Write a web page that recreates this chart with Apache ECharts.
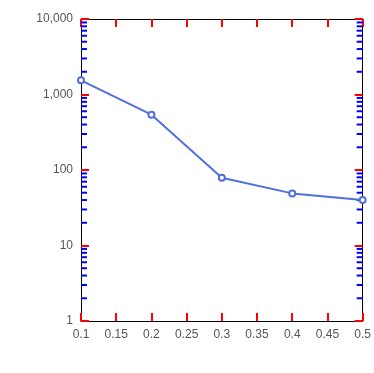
<!DOCTYPE html>
<html>
<head>
<meta charset="utf-8">
<script src="https://cdn.jsdelivr.net/npm/echarts@6/dist/echarts.min.js"></script>
<style>
  html, body { margin: 0; padding: 0; background: #fff; }
  #chart { width: 374px; height: 373px; }
</style>
</head>
<body>
<div id="chart"></div>
<script>
const minBSize = [0.1, 0.2, 0.3, 0.4, 0.5];
const cbminer = [1540, 540, 79, 49, 40];
const minorTickValues = [1, 10, 100, 1000].flatMap(d => [2, 3, 4, 5, 6, 7, 8, 9].map(m => m * d));

const chart = echarts.init(document.getElementById('chart'), null, { renderer: 'canvas' });

function axisParts() {
  return {
    axisLine: { show: true, lineStyle: { color: '#000', width: 1 } },
    axisTick: { show: true, inside: true, length: 8, lineStyle: { color: '#f00', width: 2 } },
    splitLine: { show: false },
  };
}

chart.setOption({
  animation: false,
  grid: { left: 81, top: 19, right: 9, bottom: 52 },
  xAxis: [{
    ...axisParts(),
    type: 'value',
    min: 0.1, max: 0.5, interval: 0.05,
  }, {
    ...axisParts(),
    type: 'value', position: 'top',
    min: 0.1, max: 0.5, interval: 0.05,
    axisLabel: { show: false },
  }],
  yAxis: [{
    ...axisParts(),
    type: 'log', logBase: 10, min: 1, max: 10000,
  }, {
    ...axisParts(),
    type: 'log', logBase: 10, min: 1, max: 10000, position: 'right',
    axisLabel: { show: false },
  }],
  series: [{
    type: 'line',
    data: minBSize.map((x, i) => [x, cbminer[i]]),
  }, {
    type: 'custom',
    data: minorTickValues.map(v => [0.1, v]),
    renderItem(params, api) {
      const v = api.value(1);
      const l = api.coord([0.1, v]);
      const r = api.coord([0.5, v]);
      const style = { stroke: '#00f', lineWidth: 2 };
      return {
        type: 'group',
        children: [
          { type: 'line', shape: { x1: l[0], y1: l[1], x2: l[0] + 6, y2: l[1] }, style },
          { type: 'line', shape: { x1: r[0], y1: r[1], x2: r[0] - 6, y2: r[1] }, style },
        ],
      };
    },
  }],
});
</script>
</body>
</html>
